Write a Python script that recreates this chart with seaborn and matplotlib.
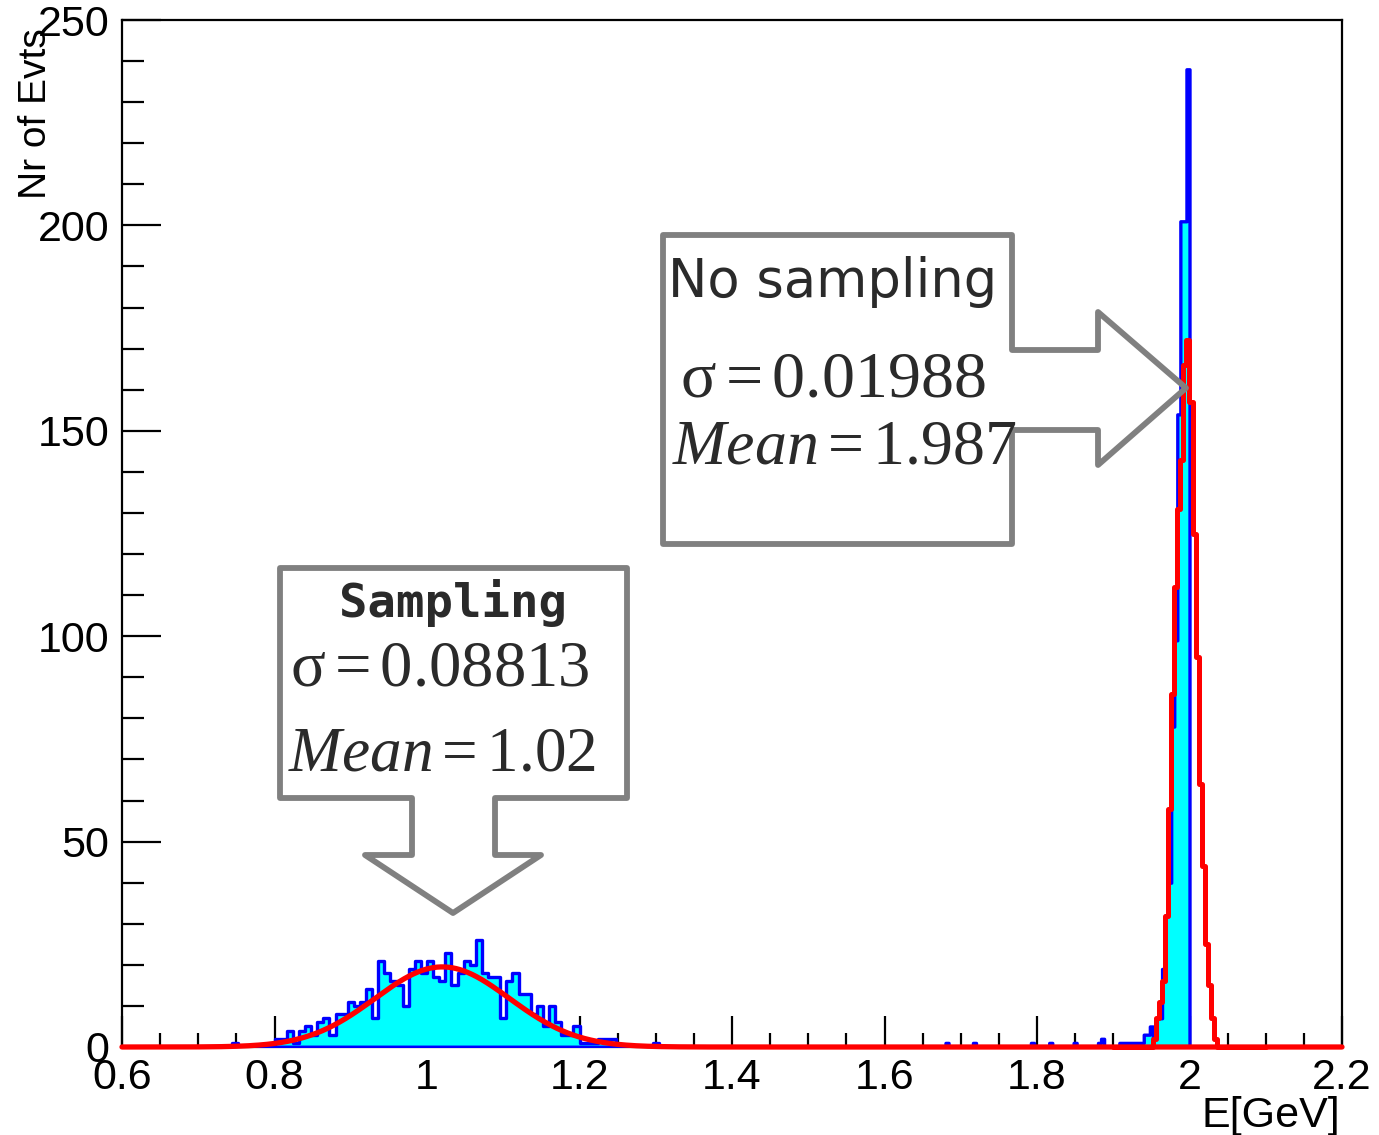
import numpy as np
import pandas as pd
import matplotlib
matplotlib.use("Agg")
import matplotlib.pyplot as plt
from matplotlib.patches import Polygon
from matplotlib.ticker import MultipleLocator, FuncFormatter
import seaborn as sns

# ---------------- data ----------------
# "Sampling" histogram: bins of 0.008 GeV, first listed bin starts at 0.744 GeV
samp_bin_width = 0.008
samp_first_edge = 0.744
samp_counts = [1, 0, 0, 0, 0, 0, 0, 2, 2, 4, 1, 4, 5, 3, 6, 7, 3, 8, 8, 11,
               10, 11, 14, 7, 21, 18, 16, 15, 10, 19, 21, 18, 21, 17, 16, 23, 15, 18, 21, 20,
               26, 18, 17, 17, 7, 16, 18, 13, 13, 8, 10, 5, 10, 6, 3, 3, 5, 1, 1, 1,
               2, 2, 2, 0, 0, 0, 0, 0, 0, 1]

# "No sampling" histogram: bins of 0.004 GeV (low edges of non-empty bins)
nosamp_bin_width = 0.004
nosamp_bin_lo = [1.680, 1.716, 1.792, 1.816, 1.848, 1.880, 1.884, 1.908, 1.912, 1.916,
                 1.920, 1.924, 1.928, 1.932, 1.936, 1.940, 1.944, 1.948, 1.952, 1.956,
                 1.960, 1.964, 1.968, 1.972, 1.976, 1.980, 1.984, 1.988, 1.992, 1.996]
nosamp_counts = [1, 1, 1, 1, 1, 1, 2, 1, 1, 1,
                 1, 1, 1, 1, 1, 3, 3, 5, 2, 7,
                 7, 19, 32, 40, 78, 99, 154, 201, 201, 238]

# red step histogram around 2 GeV (0.004 GeV bins)
red_bin_lo = [1.952, 1.956, 1.960, 1.964, 1.968, 1.972, 1.976, 1.980, 1.984, 1.988,
              1.992, 1.996, 2.000, 2.004, 2.008, 2.012, 2.016, 2.020, 2.024, 2.028, 2.032]
red_counts = [2, 7, 11, 16, 32, 58, 86, 112, 131, 143,
              166, 172, 157, 125, 95, 64, 44, 25, 15, 7, 2]

# Gaussian fit of the sampling histogram
fit_mean = 1.02
fit_sigma = 0.08813
fit_amp = 19.5

x_ticks = [0.6, 0.8, 1.0, 1.2, 1.4, 1.6, 1.8, 2.0, 2.2]
y_ticks = [0, 50, 100, 150, 200, 250]

# ---------------- style ----------------
sns.set_style("ticks")
plt.rcParams["font.family"] = ["Liberation Sans", "DejaVu Sans"]
plt.rcParams["mathtext.fontset"] = "custom"
plt.rcParams["mathtext.rm"] = "Liberation Serif"
plt.rcParams["mathtext.it"] = "Liberation Serif:italic"
plt.rcParams["text.color"] = "black"

W, H = 1379, 1135
fig = plt.figure(figsize=(W / 100, H / 100), dpi=100)
ax = fig.add_axes([122 / W, 1 - 1047 / H, (1342 - 122) / W, (1047 - 20) / H])

XMIN, XMAX = 0.6, 2.2

# sampling histogram
samp_centres = samp_first_edge + samp_bin_width * (np.arange(len(samp_counts)) + 0.5)
sns.histplot(x=samp_centres, weights=np.array(samp_counts, dtype=float),
             binwidth=samp_bin_width, binrange=(XMIN, XMAX), element="step", fill=True,
             facecolor="#00ffff", edgecolor="#0000ff", alpha=1, linewidth=2.4, ax=ax, zorder=3)

# no-sampling histogram
sns.histplot(x=np.array(nosamp_bin_lo) + nosamp_bin_width / 2,
             weights=np.array(nosamp_counts, dtype=float),
             binwidth=nosamp_bin_width, binrange=(XMIN, XMAX), element="step", fill=True,
             facecolor="#00ffff", edgecolor="#0000ff", alpha=1, linewidth=2.4, ax=ax, zorder=3)

# red step histogram
sns.histplot(x=np.array(red_bin_lo) + nosamp_bin_width / 2,
             weights=np.array(red_counts, dtype=float),
             binwidth=nosamp_bin_width, binrange=(1.9, 2.1), element="step", fill=False,
             color="#ff0000", linewidth=3.6, ax=ax, zorder=5)

# gaussian fit curve
xs = np.linspace(XMIN, XMAX, 1600)
ys = fit_amp * np.exp(-0.5 * ((xs - fit_mean) / fit_sigma) ** 2)
sns.lineplot(x=xs, y=ys, color="#ff0000", linewidth=3.8, ax=ax, zorder=6)
for ln in ax.get_lines():
    ln.set_clip_on(False)

ax.set_xlim(XMIN, XMAX)
ax.set_ylim(0, 250)
ax.set_xlabel("")
ax.set_ylabel("")
ax.set_xticks(x_ticks)
ax.set_yticks(y_ticks)
ax.xaxis.set_major_formatter(FuncFormatter(lambda v, p: "%g" % round(v, 3)))
ax.xaxis.set_minor_locator(MultipleLocator(0.05))
ax.yaxis.set_minor_locator(MultipleLocator(10))
for s in ax.spines.values():
    s.set_visible(True)
    s.set_linewidth(1.6)
    s.set_color("black")
ax.tick_params(axis="x", which="major", direction="in", length=22, width=1.6,
               labelsize=31, pad=8, top=False, color="black", labelcolor="black")
ax.tick_params(axis="x", which="minor", direction="in", length=10, width=1.6, top=False,
               color="black")
ax.tick_params(axis="y", which="major", direction="in", length=28, width=1.6,
               labelsize=31, pad=9, right=False, color="black", labelcolor="black")
ax.tick_params(axis="y", which="minor", direction="in", length=16, width=1.6, right=False,
               color="black")

fig.text(36 / W, 1 - 28 / H, "Nr of Evts", rotation=90, ha="center", va="top",
         fontsize=28, color="black")
fig.text(1340 / W, 1 - 1116 / H, "E[GeV]", ha="right", va="center", fontsize=31,
         color="black")

# ---------------- callouts ----------------
def px(pts):
    return [(x / W, 1 - y / H) for x, y in pts]

gray = "#808080"
box1 = [(663, 235), (1012, 235), (1012, 350), (1098, 350), (1098, 312), (1186, 388),
        (1098, 465), (1098, 430), (1012, 430), (1012, 544), (663, 544)]
box2 = [(280, 568), (627, 568), (627, 798), (495, 798), (495, 855), (541, 855),
        (453, 913), (365, 855), (412, 855), (412, 798), (280, 798)]
for pts in (box1, box2):
    fig.add_artist(Polygon(px(pts), closed=True, facecolor="none", edgecolor=gray,
                           linewidth=4.2, joinstyle="round", transform=fig.transFigure,
                           zorder=2))

tc = "#2a2a2a"
fig.text(668 / W, 1 - 282 / H, "No sampling", ha="left", va="center", fontsize=38,
         family="DejaVu Sans", color=tc)
fig.text(680 / W, 1 - 380 / H, r"$\mathrm{\sigma}=0.01988$", ha="left", va="center",
         fontsize=47.5, color=tc)
fig.text(672 / W, 1 - 447 / H, r"$Mean=1.987$", ha="left", va="center",
         fontsize=46, color=tc)
fig.text(453 / W, 1 - 603 / H, "Sampling", ha="center", va="center", fontsize=34,
         family="DejaVu Sans Mono", fontweight="bold", color=tc)
fig.text(290 / W, 1 - 668 / H, r"$\mathrm{\sigma}=0.08813$", ha="left", va="center",
         fontsize=46.5, color=tc)
fig.text(288 / W, 1 - 754 / H, r"$Mean=1.02$", ha="left", va="center",
         fontsize=45.5, color=tc)

fig.savefig("out.png", dpi=100)
